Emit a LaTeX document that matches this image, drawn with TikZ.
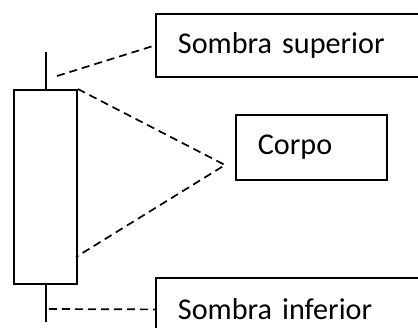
\documentclass[tikz,border=0pt]{standalone}
\usepackage{fontspec}
\setmainfont{Carlito}
\begin{document}
\begin{tikzpicture}[x=1pt,y=-1pt,
  box/.style={draw,line width=1.8pt,inner xsep=22pt,inner ysep=0pt,align=left,
    font=\fontsize{30.2}{36}\selectfont},
  leader/.style={line width=1.7pt,dash pattern=on 8pt off 5pt},
  solid line/.style={line width=1.8pt}]
\useasboundingbox (0,0) rectangle (418,327);
\clip (0,0) rectangle (418,327);
\node[box,text width=222pt,minimum height=63pt,anchor=north west] (sup) at (155,13) {Sombra superior};
\node[box,text width=107pt,minimum height=65pt,anchor=north west] (corpo) at (235,114) {Corpo};
\node[box,text width=222pt,minimum height=63pt,anchor=north west] (inf) at (155,277) {Sombra inferior};
\node[draw,line width=1.8pt,minimum width=63pt,minimum height=194pt,inner sep=0pt,anchor=north west] (body) at (13,89) {};
\coordinate (wt) at (46,52);
\coordinate (wb) at (46,322);
\draw[solid line] (wt) -- (wt |- body.north);
\draw[solid line] (wb |- body.south) -- (wb);
\coordinate (us) at (57,76);
\coordinate (tip) at (225,165);
\coordinate (be) at (76,257);
\coordinate (ls) at (49,309);
\draw[leader] (us) -- (sup.west);
\draw[leader] (body.north east) -- (tip) -- (be);
\draw[leader] (ls) -- (inf.west);
\end{tikzpicture}
\end{document}
